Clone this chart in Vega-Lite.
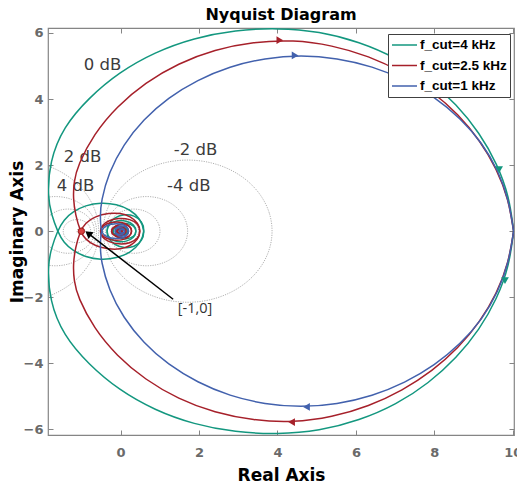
{
"$schema":"https://vega.github.io/schema/vega-lite/v6.json",
"width":466,"height":407,
"autosize":{"type":"none"},
"padding":{"left":48,"top":28,"right":3,"bottom":48},
"background":"white",
"title":{"text":"Nyquist Diagram","font":"DejaVu Sans","fontSize":16,"fontWeight":"bold","color":"#000000","offset":4,"anchor":"middle"},
"config":{"view":{"stroke":"#858585","strokeWidth":1.2},
 "axis":{"grid":false,"domain":false,"tickColor":"#858585","tickSize":-5,"tickWidth":1,"labelFont":"DejaVu Sans","labelFontSize":13,"labelFontWeight":"bold","labelColor":"#6a6a6a","labelFlush":false,"labelOverlap":false,"titleFont":"DejaVu Sans","titleFontSize":17,"titleFontWeight":"bold","titleColor":"#000000"}},
"resolve":{"axis":{"x":"independent","y":"independent"}},
"datasets":{
"grid":[
{"m":"p2","i":0,"x":-0.558,"y":0},{"m":"p2","i":1,"x":-0.631,"y":0.557},{"m":"p2","i":2,"x":-0.846,"y":1.076},{"m":"p2","i":3,"x":-1.188,"y":1.522},{"m":"p2","i":4,"x":-1.634,"y":1.864},{"m":"p2","i":5,"x":-2.153,"y":2.079},{"m":"p2","i":6,"x":-2.71,"y":2.152},{"m":"p2","i":7,"x":-3.267,"y":2.079},{"m":"p2","i":8,"x":-3.786,"y":1.864},{"m":"p2","i":9,"x":-4.232,"y":1.522},{"m":"p2","i":10,"x":-4.574,"y":1.076},{"m":"p2","i":11,"x":-4.789,"y":0.557},{"m":"p2","i":12,"x":-4.862,"y":0},{"m":"p2","i":13,"x":-4.789,"y":-0.557},{"m":"p2","i":14,"x":-4.574,"y":-1.076},{"m":"p2","i":15,"x":-4.232,"y":-1.522},{"m":"p2","i":16,"x":-3.786,"y":-1.864},{"m":"p2","i":17,"x":-3.267,"y":-2.079},{"m":"p2","i":18,"x":-2.71,"y":-2.152},{"m":"p2","i":19,"x":-2.153,"y":-2.079},{"m":"p2","i":20,"x":-1.634,"y":-1.864},{"m":"p2","i":21,"x":-1.188,"y":-1.522},{"m":"p2","i":22,"x":-0.846,"y":-1.076},{"m":"p2","i":23,"x":-0.631,"y":-0.557},
{"m":"m2","i":0,"x":3.862,"y":0},{"m":"m2","i":1,"x":3.789,"y":0.557},{"m":"m2","i":2,"x":3.574,"y":1.076},{"m":"m2","i":3,"x":3.232,"y":1.522},{"m":"m2","i":4,"x":2.786,"y":1.864},{"m":"m2","i":5,"x":2.267,"y":2.079},{"m":"m2","i":6,"x":1.71,"y":2.152},{"m":"m2","i":7,"x":1.153,"y":2.079},{"m":"m2","i":8,"x":0.634,"y":1.864},{"m":"m2","i":9,"x":0.188,"y":1.522},{"m":"m2","i":10,"x":-0.154,"y":1.076},{"m":"m2","i":11,"x":-0.369,"y":0.557},{"m":"m2","i":12,"x":-0.442,"y":0},{"m":"m2","i":13,"x":-0.369,"y":-0.557},{"m":"m2","i":14,"x":-0.154,"y":-1.076},{"m":"m2","i":15,"x":0.188,"y":-1.522},{"m":"m2","i":16,"x":0.634,"y":-1.864},{"m":"m2","i":17,"x":1.153,"y":-2.079},{"m":"m2","i":18,"x":1.71,"y":-2.152},{"m":"m2","i":19,"x":2.267,"y":-2.079},{"m":"m2","i":20,"x":2.786,"y":-1.864},{"m":"m2","i":21,"x":3.232,"y":-1.522},{"m":"m2","i":22,"x":3.574,"y":-1.076},{"m":"m2","i":23,"x":3.789,"y":-0.557},
{"m":"p4","i":0,"x":-0.613,"y":0},{"m":"p4","i":1,"x":-0.649,"y":0.271},{"m":"p4","i":2,"x":-0.753,"y":0.524},{"m":"p4","i":3,"x":-0.92,"y":0.741},{"m":"p4","i":4,"x":-1.137,"y":0.908},{"m":"p4","i":5,"x":-1.39,"y":1.012},{"m":"p4","i":6,"x":-1.661,"y":1.048},{"m":"p4","i":7,"x":-1.932,"y":1.012},{"m":"p4","i":8,"x":-2.185,"y":0.908},{"m":"p4","i":9,"x":-2.402,"y":0.741},{"m":"p4","i":10,"x":-2.569,"y":0.524},{"m":"p4","i":11,"x":-2.673,"y":0.271},{"m":"p4","i":12,"x":-2.709,"y":0},{"m":"p4","i":13,"x":-2.673,"y":-0.271},{"m":"p4","i":14,"x":-2.569,"y":-0.524},{"m":"p4","i":15,"x":-2.402,"y":-0.741},{"m":"p4","i":16,"x":-2.185,"y":-0.908},{"m":"p4","i":17,"x":-1.932,"y":-1.012},{"m":"p4","i":18,"x":-1.661,"y":-1.048},{"m":"p4","i":19,"x":-1.39,"y":-1.012},{"m":"p4","i":20,"x":-1.137,"y":-0.908},{"m":"p4","i":21,"x":-0.92,"y":-0.741},{"m":"p4","i":22,"x":-0.753,"y":-0.524},{"m":"p4","i":23,"x":-0.649,"y":-0.271},
{"m":"m4","i":0,"x":1.709,"y":0},{"m":"m4","i":1,"x":1.673,"y":0.271},{"m":"m4","i":2,"x":1.569,"y":0.524},{"m":"m4","i":3,"x":1.402,"y":0.741},{"m":"m4","i":4,"x":1.185,"y":0.908},{"m":"m4","i":5,"x":0.932,"y":1.012},{"m":"m4","i":6,"x":0.661,"y":1.048},{"m":"m4","i":7,"x":0.39,"y":1.012},{"m":"m4","i":8,"x":0.137,"y":0.908},{"m":"m4","i":9,"x":-0.08,"y":0.741},{"m":"m4","i":10,"x":-0.247,"y":0.524},{"m":"m4","i":11,"x":-0.351,"y":0.271},{"m":"m4","i":12,"x":-0.387,"y":0},{"m":"m4","i":13,"x":-0.351,"y":-0.271},{"m":"m4","i":14,"x":-0.247,"y":-0.524},{"m":"m4","i":15,"x":-0.08,"y":-0.741},{"m":"m4","i":16,"x":0.137,"y":-0.908},{"m":"m4","i":17,"x":0.39,"y":-1.012},{"m":"m4","i":18,"x":0.661,"y":-1.048},{"m":"m4","i":19,"x":0.932,"y":-1.012},{"m":"m4","i":20,"x":1.185,"y":-0.908},{"m":"m4","i":21,"x":1.402,"y":-0.741},{"m":"m4","i":22,"x":1.569,"y":-0.524},{"m":"m4","i":23,"x":1.673,"y":-0.271},
{"m":"p6","i":0,"x":-0.667,"y":0},{"m":"p6","i":1,"x":-0.69,"y":0.173},{"m":"p6","i":2,"x":-0.757,"y":0.335},{"m":"p6","i":3,"x":-0.863,"y":0.473},{"m":"p6","i":4,"x":-1.001,"y":0.579},{"m":"p6","i":5,"x":-1.163,"y":0.646},{"m":"p6","i":6,"x":-1.336,"y":0.669},{"m":"p6","i":7,"x":-1.509,"y":0.646},{"m":"p6","i":8,"x":-1.671,"y":0.579},{"m":"p6","i":9,"x":-1.809,"y":0.473},{"m":"p6","i":10,"x":-1.915,"y":0.335},{"m":"p6","i":11,"x":-1.982,"y":0.173},{"m":"p6","i":12,"x":-2.005,"y":0},{"m":"p6","i":13,"x":-1.982,"y":-0.173},{"m":"p6","i":14,"x":-1.915,"y":-0.335},{"m":"p6","i":15,"x":-1.809,"y":-0.473},{"m":"p6","i":16,"x":-1.671,"y":-0.579},{"m":"p6","i":17,"x":-1.509,"y":-0.646},{"m":"p6","i":18,"x":-1.336,"y":-0.669},{"m":"p6","i":19,"x":-1.163,"y":-0.646},{"m":"p6","i":20,"x":-1.001,"y":-0.579},{"m":"p6","i":21,"x":-0.863,"y":-0.473},{"m":"p6","i":22,"x":-0.757,"y":-0.335},{"m":"p6","i":23,"x":-0.69,"y":-0.173},
{"m":"m6","i":0,"x":1.005,"y":0},{"m":"m6","i":1,"x":0.982,"y":0.173},{"m":"m6","i":2,"x":0.915,"y":0.335},{"m":"m6","i":3,"x":0.809,"y":0.473},{"m":"m6","i":4,"x":0.671,"y":0.579},{"m":"m6","i":5,"x":0.509,"y":0.646},{"m":"m6","i":6,"x":0.336,"y":0.669},{"m":"m6","i":7,"x":0.163,"y":0.646},{"m":"m6","i":8,"x":0.001,"y":0.579},{"m":"m6","i":9,"x":-0.137,"y":0.473},{"m":"m6","i":10,"x":-0.243,"y":0.335},{"m":"m6","i":11,"x":-0.31,"y":0.173},{"m":"m6","i":12,"x":-0.333,"y":0},{"m":"m6","i":13,"x":-0.31,"y":-0.173},{"m":"m6","i":14,"x":-0.243,"y":-0.335},{"m":"m6","i":15,"x":-0.137,"y":-0.473},{"m":"m6","i":16,"x":0.001,"y":-0.579},{"m":"m6","i":17,"x":0.163,"y":-0.646},{"m":"m6","i":18,"x":0.336,"y":-0.669},{"m":"m6","i":19,"x":0.509,"y":-0.646},{"m":"m6","i":20,"x":0.671,"y":-0.579},{"m":"m6","i":21,"x":0.809,"y":-0.473},{"m":"m6","i":22,"x":0.915,"y":-0.335},{"m":"m6","i":23,"x":0.982,"y":-0.173},
{"m":"p10","i":0,"x":-0.76,"y":0},{"m":"p10","i":1,"x":-0.807,"y":0.176},{"m":"p10","i":2,"x":-0.935,"y":0.304},{"m":"p10","i":3,"x":-1.111,"y":0.351},{"m":"p10","i":4,"x":-1.287,"y":0.304},{"m":"p10","i":5,"x":-1.415,"y":0.176},{"m":"p10","i":6,"x":-1.462,"y":0},{"m":"p10","i":7,"x":-1.415,"y":-0.176},{"m":"p10","i":8,"x":-1.287,"y":-0.304},{"m":"p10","i":9,"x":-1.111,"y":-0.351},{"m":"p10","i":10,"x":-0.935,"y":-0.304},{"m":"p10","i":11,"x":-0.807,"y":-0.176},
{"m":"m10","i":0,"x":0.462,"y":0},{"m":"m10","i":1,"x":0.415,"y":0.176},{"m":"m10","i":2,"x":0.287,"y":0.304},{"m":"m10","i":3,"x":0.111,"y":0.351},{"m":"m10","i":4,"x":-0.065,"y":0.304},{"m":"m10","i":5,"x":-0.193,"y":0.176},{"m":"m10","i":6,"x":-0.24,"y":0},{"m":"m10","i":7,"x":-0.193,"y":-0.176},{"m":"m10","i":8,"x":-0.065,"y":-0.304},{"m":"m10","i":9,"x":0.111,"y":-0.351},{"m":"m10","i":10,"x":0.287,"y":-0.304},{"m":"m10","i":11,"x":0.415,"y":-0.176},
{"m":"p20","i":0,"x":-0.909,"y":0},{"m":"p20","i":1,"x":-0.923,"y":0.051},{"m":"p20","i":2,"x":-0.959,"y":0.087},{"m":"p20","i":3,"x":-1.01,"y":0.101},{"m":"p20","i":4,"x":-1.061,"y":0.087},{"m":"p20","i":5,"x":-1.097,"y":0.051},{"m":"p20","i":6,"x":-1.111,"y":0},{"m":"p20","i":7,"x":-1.097,"y":-0.051},{"m":"p20","i":8,"x":-1.061,"y":-0.087},{"m":"p20","i":9,"x":-1.01,"y":-0.101},{"m":"p20","i":10,"x":-0.959,"y":-0.087},{"m":"p20","i":11,"x":-0.923,"y":-0.051},
{"m":"m20","i":0,"x":0.111,"y":0},{"m":"m20","i":1,"x":0.097,"y":0.051},{"m":"m20","i":2,"x":0.061,"y":0.087},{"m":"m20","i":3,"x":0.01,"y":0.101},{"m":"m20","i":4,"x":-0.041,"y":0.087},{"m":"m20","i":5,"x":-0.077,"y":0.051},{"m":"m20","i":6,"x":-0.091,"y":0},{"m":"m20","i":7,"x":-0.077,"y":-0.051},{"m":"m20","i":8,"x":-0.041,"y":-0.087},{"m":"m20","i":9,"x":0.01,"y":-0.101},{"m":"m20","i":10,"x":0.061,"y":-0.087},{"m":"m20","i":11,"x":0.097,"y":-0.051}
],
"curves":[
{"c":"f_cut=4 kHz","s":"t1","i":1,"x":10.02,"y":0},{"c":"f_cut=4 kHz","s":"t1","i":2,"x":9.91,"y":-1.04},{"c":"f_cut=4 kHz","s":"t1","i":3,"x":9.6,"y":-2.04},{"c":"f_cut=4 kHz","s":"t1","i":4,"x":9.15,"y":-2.98},{"c":"f_cut=4 kHz","s":"t1","i":5,"x":8.57,"y":-3.83},{"c":"f_cut=4 kHz","s":"t1","i":6,"x":7.86,"y":-4.6},{"c":"f_cut=4 kHz","s":"t1","i":7,"x":7.03,"y":-5.25},{"c":"f_cut=4 kHz","s":"t1","i":8,"x":6.09,"y":-5.73},{"c":"f_cut=4 kHz","s":"t1","i":9,"x":5.07,"y":-6.05},{"c":"f_cut=4 kHz","s":"t1","i":10,"x":4.0,"y":-6.15},{"c":"f_cut=4 kHz","s":"t1","i":11,"x":2.93,"y":-6.09},{"c":"f_cut=4 kHz","s":"t1","i":12,"x":1.87,"y":-5.85},{"c":"f_cut=4 kHz","s":"t1","i":13,"x":0.87,"y":-5.42},{"c":"f_cut=4 kHz","s":"t1","i":14,"x":-0.04,"y":-4.81},{"c":"f_cut=4 kHz","s":"t1","i":15,"x":-0.81,"y":-4.04},{"c":"f_cut=4 kHz","s":"t1","i":16,"x":-1.46,"y":-3.15},{"c":"f_cut=4 kHz","s":"t1","i":17,"x":-1.81,"y":-2.11},{"c":"f_cut=4 kHz","s":"t1","i":18,"x":-1.86,"y":-1.03},{"c":"f_cut=4 kHz","s":"t1","i":19,"x":-1.76,"y":-0.5},{"c":"f_cut=4 kHz","s":"t1","i":20,"x":-1.61,"y":0},
{"c":"f_cut=4 kHz","s":"t1","i":21,"x":-1.45,"y":0.35},{"c":"f_cut=4 kHz","s":"t1","i":22,"x":-1.2,"y":0.6},{"c":"f_cut=4 kHz","s":"t1","i":23,"x":-0.9,"y":0.78},{"c":"f_cut=4 kHz","s":"t1","i":24,"x":-0.5,"y":0.87},{"c":"f_cut=4 kHz","s":"t1","i":25,"x":-0.1,"y":0.82},{"c":"f_cut=4 kHz","s":"t1","i":26,"x":0.25,"y":0.65},{"c":"f_cut=4 kHz","s":"t1","i":27,"x":0.5,"y":0.38},{"c":"f_cut=4 kHz","s":"t1","i":28,"x":0.62,"y":0},{"c":"f_cut=4 kHz","s":"t1","i":29,"x":0.55,"y":-0.3},{"c":"f_cut=4 kHz","s":"t1","i":30,"x":0.35,"y":-0.48},{"c":"f_cut=4 kHz","s":"t1","i":31,"x":0.1,"y":-0.52},{"c":"f_cut=4 kHz","s":"t1","i":32,"x":-0.15,"y":-0.42},{"c":"f_cut=4 kHz","s":"t1","i":33,"x":-0.32,"y":-0.22},{"c":"f_cut=4 kHz","s":"t1","i":34,"x":-0.36,"y":0},{"c":"f_cut=4 kHz","s":"t1","i":35,"x":-0.3,"y":0.22},{"c":"f_cut=4 kHz","s":"t1","i":36,"x":-0.1,"y":0.33},{"c":"f_cut=4 kHz","s":"t1","i":37,"x":0.15,"y":0.32},{"c":"f_cut=4 kHz","s":"t1","i":38,"x":0.35,"y":0.2},{"c":"f_cut=4 kHz","s":"t1","i":39,"x":0.41,"y":0},{"c":"f_cut=4 kHz","s":"t1","i":40,"x":0.35,"y":-0.17},{"c":"f_cut=4 kHz","s":"t1","i":41,"x":0.15,"y":-0.25},{"c":"f_cut=4 kHz","s":"t1","i":42,"x":-0.05,"y":-0.22},{"c":"f_cut=4 kHz","s":"t1","i":43,"x":-0.18,"y":-0.1},{"c":"f_cut=4 kHz","s":"t1","i":44,"x":-0.2,"y":0},{"c":"f_cut=4 kHz","s":"t1","i":45,"x":-0.15,"y":0.12},{"c":"f_cut=4 kHz","s":"t1","i":46,"x":0,"y":0.16},{"c":"f_cut=4 kHz","s":"t1","i":47,"x":0.15,"y":0.1},{"c":"f_cut=4 kHz","s":"t1","i":48,"x":0.2,"y":0},{"c":"f_cut=4 kHz","s":"t1","i":49,"x":0.14,"y":-0.09},{"c":"f_cut=4 kHz","s":"t1","i":50,"x":0,"y":-0.11},{"c":"f_cut=4 kHz","s":"t1","i":51,"x":-0.08,"y":-0.05},{"c":"f_cut=4 kHz","s":"t1","i":52,"x":-0.09,"y":0},{"c":"f_cut=4 kHz","s":"t1","i":53,"x":-0.05,"y":0.05},{"c":"f_cut=4 kHz","s":"t1","i":54,"x":0.03,"y":0.05},{"c":"f_cut=4 kHz","s":"t1","i":55,"x":0.06,"y":0},{"c":"f_cut=4 kHz","s":"t1","i":56,"x":0,"y":0},
{"c":"f_cut=4 kHz","s":"t2","i":1,"x":10.02,"y":0},{"c":"f_cut=4 kHz","s":"t2","i":2,"x":9.91,"y":1.04},{"c":"f_cut=4 kHz","s":"t2","i":3,"x":9.6,"y":2.04},{"c":"f_cut=4 kHz","s":"t2","i":4,"x":9.15,"y":2.98},{"c":"f_cut=4 kHz","s":"t2","i":5,"x":8.57,"y":3.83},{"c":"f_cut=4 kHz","s":"t2","i":6,"x":7.86,"y":4.6},{"c":"f_cut=4 kHz","s":"t2","i":7,"x":7.03,"y":5.25},{"c":"f_cut=4 kHz","s":"t2","i":8,"x":6.09,"y":5.73},{"c":"f_cut=4 kHz","s":"t2","i":9,"x":5.07,"y":6.05},{"c":"f_cut=4 kHz","s":"t2","i":10,"x":4.0,"y":6.15},{"c":"f_cut=4 kHz","s":"t2","i":11,"x":2.93,"y":6.09},{"c":"f_cut=4 kHz","s":"t2","i":12,"x":1.87,"y":5.85},{"c":"f_cut=4 kHz","s":"t2","i":13,"x":0.87,"y":5.42},{"c":"f_cut=4 kHz","s":"t2","i":14,"x":-0.04,"y":4.81},{"c":"f_cut=4 kHz","s":"t2","i":15,"x":-0.81,"y":4.04},{"c":"f_cut=4 kHz","s":"t2","i":16,"x":-1.46,"y":3.15},{"c":"f_cut=4 kHz","s":"t2","i":17,"x":-1.81,"y":2.11},{"c":"f_cut=4 kHz","s":"t2","i":18,"x":-1.86,"y":1.03},{"c":"f_cut=4 kHz","s":"t2","i":19,"x":-1.76,"y":0.5},{"c":"f_cut=4 kHz","s":"t2","i":20,"x":-1.61,"y":0},
{"c":"f_cut=4 kHz","s":"t2","i":21,"x":-1.45,"y":-0.35},{"c":"f_cut=4 kHz","s":"t2","i":22,"x":-1.2,"y":-0.6},{"c":"f_cut=4 kHz","s":"t2","i":23,"x":-0.9,"y":-0.78},{"c":"f_cut=4 kHz","s":"t2","i":24,"x":-0.5,"y":-0.87},{"c":"f_cut=4 kHz","s":"t2","i":25,"x":-0.1,"y":-0.82},{"c":"f_cut=4 kHz","s":"t2","i":26,"x":0.25,"y":-0.65},{"c":"f_cut=4 kHz","s":"t2","i":27,"x":0.5,"y":-0.38},{"c":"f_cut=4 kHz","s":"t2","i":28,"x":0.62,"y":0},{"c":"f_cut=4 kHz","s":"t2","i":29,"x":0.55,"y":0.3},{"c":"f_cut=4 kHz","s":"t2","i":30,"x":0.35,"y":0.48},{"c":"f_cut=4 kHz","s":"t2","i":31,"x":0.1,"y":0.52},{"c":"f_cut=4 kHz","s":"t2","i":32,"x":-0.15,"y":0.42},{"c":"f_cut=4 kHz","s":"t2","i":33,"x":-0.32,"y":0.22},{"c":"f_cut=4 kHz","s":"t2","i":34,"x":-0.36,"y":0},{"c":"f_cut=4 kHz","s":"t2","i":35,"x":-0.3,"y":-0.22},{"c":"f_cut=4 kHz","s":"t2","i":36,"x":-0.1,"y":-0.33},{"c":"f_cut=4 kHz","s":"t2","i":37,"x":0.15,"y":-0.32},{"c":"f_cut=4 kHz","s":"t2","i":38,"x":0.35,"y":-0.2},{"c":"f_cut=4 kHz","s":"t2","i":39,"x":0.41,"y":0},{"c":"f_cut=4 kHz","s":"t2","i":40,"x":0.35,"y":0.17},{"c":"f_cut=4 kHz","s":"t2","i":41,"x":0.15,"y":0.25},{"c":"f_cut=4 kHz","s":"t2","i":42,"x":-0.05,"y":0.22},{"c":"f_cut=4 kHz","s":"t2","i":43,"x":-0.18,"y":0.1},{"c":"f_cut=4 kHz","s":"t2","i":44,"x":-0.2,"y":0},{"c":"f_cut=4 kHz","s":"t2","i":45,"x":-0.15,"y":-0.12},{"c":"f_cut=4 kHz","s":"t2","i":46,"x":0,"y":-0.16},{"c":"f_cut=4 kHz","s":"t2","i":47,"x":0.15,"y":-0.1},{"c":"f_cut=4 kHz","s":"t2","i":48,"x":0.2,"y":0},{"c":"f_cut=4 kHz","s":"t2","i":49,"x":0.14,"y":0.09},{"c":"f_cut=4 kHz","s":"t2","i":50,"x":0,"y":0.11},{"c":"f_cut=4 kHz","s":"t2","i":51,"x":-0.08,"y":0.05},{"c":"f_cut=4 kHz","s":"t2","i":52,"x":-0.09,"y":0},{"c":"f_cut=4 kHz","s":"t2","i":53,"x":-0.05,"y":-0.05},{"c":"f_cut=4 kHz","s":"t2","i":54,"x":0.03,"y":-0.05},{"c":"f_cut=4 kHz","s":"t2","i":55,"x":0.06,"y":0},{"c":"f_cut=4 kHz","s":"t2","i":56,"x":0,"y":0},
{"c":"f_cut=2.5 kHz","s":"r1","i":1,"x":10.02,"y":0},{"c":"f_cut=2.5 kHz","s":"r1","i":2,"x":9.89,"y":-0.97},{"c":"f_cut=2.5 kHz","s":"r1","i":3,"x":9.59,"y":-1.89},{"c":"f_cut=2.5 kHz","s":"r1","i":4,"x":9.16,"y":-2.75},{"c":"f_cut=2.5 kHz","s":"r1","i":5,"x":8.61,"y":-3.54},{"c":"f_cut=2.5 kHz","s":"r1","i":6,"x":7.95,"y":-4.23},{"c":"f_cut=2.5 kHz","s":"r1","i":7,"x":7.19,"y":-4.82},{"c":"f_cut=2.5 kHz","s":"r1","i":8,"x":6.33,"y":-5.3},{"c":"f_cut=2.5 kHz","s":"r1","i":9,"x":5.39,"y":-5.63},{"c":"f_cut=2.5 kHz","s":"r1","i":10,"x":4.4,"y":-5.79},{"c":"f_cut=2.5 kHz","s":"r1","i":11,"x":3.39,"y":-5.73},{"c":"f_cut=2.5 kHz","s":"r1","i":12,"x":2.4,"y":-5.5},{"c":"f_cut=2.5 kHz","s":"r1","i":13,"x":1.47,"y":-5.08},{"c":"f_cut=2.5 kHz","s":"r1","i":14,"x":0.63,"y":-4.5},{"c":"f_cut=2.5 kHz","s":"r1","i":15,"x":-0.1,"y":-3.77},{"c":"f_cut=2.5 kHz","s":"r1","i":16,"x":-0.68,"y":-2.94},{"c":"f_cut=2.5 kHz","s":"r1","i":17,"x":-1.09,"y":-2.0},{"c":"f_cut=2.5 kHz","s":"r1","i":18,"x":-1.19,"y":-1.5},{"c":"f_cut=2.5 kHz","s":"r1","i":19,"x":-1.21,"y":-0.99},{"c":"f_cut=2.5 kHz","s":"r1","i":20,"x":-1.15,"y":-0.49},{"c":"f_cut=2.5 kHz","s":"r1","i":21,"x":-1.03,"y":0},
{"c":"f_cut=2.5 kHz","s":"r1","i":22,"x":-0.9,"y":0.25},{"c":"f_cut=2.5 kHz","s":"r1","i":23,"x":-0.65,"y":0.45},{"c":"f_cut=2.5 kHz","s":"r1","i":24,"x":-0.3,"y":0.55},{"c":"f_cut=2.5 kHz","s":"r1","i":25,"x":0,"y":0.55},{"c":"f_cut=2.5 kHz","s":"r1","i":26,"x":0.25,"y":0.45},{"c":"f_cut=2.5 kHz","s":"r1","i":27,"x":0.45,"y":0.25},{"c":"f_cut=2.5 kHz","s":"r1","i":28,"x":0.51,"y":0},{"c":"f_cut=2.5 kHz","s":"r1","i":29,"x":0.45,"y":-0.22},{"c":"f_cut=2.5 kHz","s":"r1","i":30,"x":0.25,"y":-0.37},{"c":"f_cut=2.5 kHz","s":"r1","i":31,"x":-0.05,"y":-0.4},{"c":"f_cut=2.5 kHz","s":"r1","i":32,"x":-0.3,"y":-0.33},{"c":"f_cut=2.5 kHz","s":"r1","i":33,"x":-0.48,"y":-0.18},{"c":"f_cut=2.5 kHz","s":"r1","i":34,"x":-0.53,"y":0},{"c":"f_cut=2.5 kHz","s":"r1","i":35,"x":-0.45,"y":0.18},{"c":"f_cut=2.5 kHz","s":"r1","i":36,"x":-0.25,"y":0.28},{"c":"f_cut=2.5 kHz","s":"r1","i":37,"x":0.05,"y":0.28},{"c":"f_cut=2.5 kHz","s":"r1","i":38,"x":0.22,"y":0.18},{"c":"f_cut=2.5 kHz","s":"r1","i":39,"x":0.3,"y":0},{"c":"f_cut=2.5 kHz","s":"r1","i":40,"x":0.25,"y":-0.16},{"c":"f_cut=2.5 kHz","s":"r1","i":41,"x":0.05,"y":-0.22},{"c":"f_cut=2.5 kHz","s":"r1","i":42,"x":-0.15,"y":-0.17},{"c":"f_cut=2.5 kHz","s":"r1","i":43,"x":-0.25,"y":0},{"c":"f_cut=2.5 kHz","s":"r1","i":44,"x":-0.2,"y":0.12},{"c":"f_cut=2.5 kHz","s":"r1","i":45,"x":-0.05,"y":0.16},{"c":"f_cut=2.5 kHz","s":"r1","i":46,"x":0.1,"y":0.11},{"c":"f_cut=2.5 kHz","s":"r1","i":47,"x":0.16,"y":0},{"c":"f_cut=2.5 kHz","s":"r1","i":48,"x":0.1,"y":-0.08},{"c":"f_cut=2.5 kHz","s":"r1","i":49,"x":-0.02,"y":-0.1},{"c":"f_cut=2.5 kHz","s":"r1","i":50,"x":-0.1,"y":-0.05},{"c":"f_cut=2.5 kHz","s":"r1","i":51,"x":-0.11,"y":0},{"c":"f_cut=2.5 kHz","s":"r1","i":52,"x":-0.06,"y":0.05},{"c":"f_cut=2.5 kHz","s":"r1","i":53,"x":0.03,"y":0.05},{"c":"f_cut=2.5 kHz","s":"r1","i":54,"x":0.06,"y":0},{"c":"f_cut=2.5 kHz","s":"r1","i":55,"x":0,"y":0},
{"c":"f_cut=2.5 kHz","s":"r2","i":1,"x":10.02,"y":0},{"c":"f_cut=2.5 kHz","s":"r2","i":2,"x":9.89,"y":0.97},{"c":"f_cut=2.5 kHz","s":"r2","i":3,"x":9.59,"y":1.89},{"c":"f_cut=2.5 kHz","s":"r2","i":4,"x":9.16,"y":2.75},{"c":"f_cut=2.5 kHz","s":"r2","i":5,"x":8.61,"y":3.54},{"c":"f_cut=2.5 kHz","s":"r2","i":6,"x":7.95,"y":4.23},{"c":"f_cut=2.5 kHz","s":"r2","i":7,"x":7.19,"y":4.82},{"c":"f_cut=2.5 kHz","s":"r2","i":8,"x":6.33,"y":5.3},{"c":"f_cut=2.5 kHz","s":"r2","i":9,"x":5.39,"y":5.63},{"c":"f_cut=2.5 kHz","s":"r2","i":10,"x":4.4,"y":5.79},{"c":"f_cut=2.5 kHz","s":"r2","i":11,"x":3.39,"y":5.73},{"c":"f_cut=2.5 kHz","s":"r2","i":12,"x":2.4,"y":5.5},{"c":"f_cut=2.5 kHz","s":"r2","i":13,"x":1.47,"y":5.08},{"c":"f_cut=2.5 kHz","s":"r2","i":14,"x":0.63,"y":4.5},{"c":"f_cut=2.5 kHz","s":"r2","i":15,"x":-0.1,"y":3.77},{"c":"f_cut=2.5 kHz","s":"r2","i":16,"x":-0.68,"y":2.94},{"c":"f_cut=2.5 kHz","s":"r2","i":17,"x":-1.09,"y":2.0},{"c":"f_cut=2.5 kHz","s":"r2","i":18,"x":-1.19,"y":1.5},{"c":"f_cut=2.5 kHz","s":"r2","i":19,"x":-1.21,"y":0.99},{"c":"f_cut=2.5 kHz","s":"r2","i":20,"x":-1.15,"y":0.49},{"c":"f_cut=2.5 kHz","s":"r2","i":21,"x":-1.03,"y":0},
{"c":"f_cut=2.5 kHz","s":"r2","i":22,"x":-0.9,"y":-0.25},{"c":"f_cut=2.5 kHz","s":"r2","i":23,"x":-0.65,"y":-0.45},{"c":"f_cut=2.5 kHz","s":"r2","i":24,"x":-0.3,"y":-0.55},{"c":"f_cut=2.5 kHz","s":"r2","i":25,"x":0,"y":-0.55},{"c":"f_cut=2.5 kHz","s":"r2","i":26,"x":0.25,"y":-0.45},{"c":"f_cut=2.5 kHz","s":"r2","i":27,"x":0.45,"y":-0.25},{"c":"f_cut=2.5 kHz","s":"r2","i":28,"x":0.51,"y":0},{"c":"f_cut=2.5 kHz","s":"r2","i":29,"x":0.45,"y":0.22},{"c":"f_cut=2.5 kHz","s":"r2","i":30,"x":0.25,"y":0.37},{"c":"f_cut=2.5 kHz","s":"r2","i":31,"x":-0.05,"y":0.4},{"c":"f_cut=2.5 kHz","s":"r2","i":32,"x":-0.3,"y":0.33},{"c":"f_cut=2.5 kHz","s":"r2","i":33,"x":-0.48,"y":0.18},{"c":"f_cut=2.5 kHz","s":"r2","i":34,"x":-0.53,"y":0},{"c":"f_cut=2.5 kHz","s":"r2","i":35,"x":-0.45,"y":-0.18},{"c":"f_cut=2.5 kHz","s":"r2","i":36,"x":-0.25,"y":-0.28},{"c":"f_cut=2.5 kHz","s":"r2","i":37,"x":0.05,"y":-0.28},{"c":"f_cut=2.5 kHz","s":"r2","i":38,"x":0.22,"y":-0.18},{"c":"f_cut=2.5 kHz","s":"r2","i":39,"x":0.3,"y":0},{"c":"f_cut=2.5 kHz","s":"r2","i":40,"x":0.25,"y":0.16},{"c":"f_cut=2.5 kHz","s":"r2","i":41,"x":0.05,"y":0.22},{"c":"f_cut=2.5 kHz","s":"r2","i":42,"x":-0.15,"y":0.17},{"c":"f_cut=2.5 kHz","s":"r2","i":43,"x":-0.25,"y":0},{"c":"f_cut=2.5 kHz","s":"r2","i":44,"x":-0.2,"y":-0.12},{"c":"f_cut=2.5 kHz","s":"r2","i":45,"x":-0.05,"y":-0.16},{"c":"f_cut=2.5 kHz","s":"r2","i":46,"x":0.1,"y":-0.11},{"c":"f_cut=2.5 kHz","s":"r2","i":47,"x":0.16,"y":0},{"c":"f_cut=2.5 kHz","s":"r2","i":48,"x":0.1,"y":0.08},{"c":"f_cut=2.5 kHz","s":"r2","i":49,"x":-0.02,"y":0.1},{"c":"f_cut=2.5 kHz","s":"r2","i":50,"x":-0.1,"y":0.05},{"c":"f_cut=2.5 kHz","s":"r2","i":51,"x":-0.11,"y":0},{"c":"f_cut=2.5 kHz","s":"r2","i":52,"x":-0.06,"y":-0.05},{"c":"f_cut=2.5 kHz","s":"r2","i":53,"x":0.03,"y":-0.05},{"c":"f_cut=2.5 kHz","s":"r2","i":54,"x":0.06,"y":0},{"c":"f_cut=2.5 kHz","s":"r2","i":55,"x":0,"y":0},
{"c":"f_cut=1 kHz","s":"b1","i":1,"x":10.02,"y":0},{"c":"f_cut=1 kHz","s":"b1","i":2,"x":9.9,"y":-0.93},{"c":"f_cut=1 kHz","s":"b1","i":3,"x":9.63,"y":-1.83},{"c":"f_cut=1 kHz","s":"b1","i":4,"x":9.22,"y":-2.67},{"c":"f_cut=1 kHz","s":"b1","i":5,"x":8.67,"y":-3.41},{"c":"f_cut=1 kHz","s":"b1","i":6,"x":8.01,"y":-4.06},{"c":"f_cut=1 kHz","s":"b1","i":7,"x":7.25,"y":-4.59},{"c":"f_cut=1 kHz","s":"b1","i":8,"x":6.42,"y":-4.99},{"c":"f_cut=1 kHz","s":"b1","i":9,"x":5.52,"y":-5.24},{"c":"f_cut=1 kHz","s":"b1","i":10,"x":4.6,"y":-5.33},{"c":"f_cut=1 kHz","s":"b1","i":11,"x":3.68,"y":-5.24},{"c":"f_cut=1 kHz","s":"b1","i":12,"x":2.78,"y":-4.99},{"c":"f_cut=1 kHz","s":"b1","i":13,"x":1.96,"y":-4.58},{"c":"f_cut=1 kHz","s":"b1","i":14,"x":1.21,"y":-4.04},{"c":"f_cut=1 kHz","s":"b1","i":15,"x":0.58,"y":-3.38},{"c":"f_cut=1 kHz","s":"b1","i":16,"x":0.07,"y":-2.62},{"c":"f_cut=1 kHz","s":"b1","i":17,"x":-0.3,"y":-1.78},{"c":"f_cut=1 kHz","s":"b1","i":18,"x":-0.5,"y":-0.9},{"c":"f_cut=1 kHz","s":"b1","i":19,"x":-0.52,"y":-0.45},{"c":"f_cut=1 kHz","s":"b1","i":20,"x":-0.5,"y":0},
{"c":"f_cut=1 kHz","s":"b1","i":21,"x":-0.42,"y":0.14},{"c":"f_cut=1 kHz","s":"b1","i":22,"x":-0.25,"y":0.22},{"c":"f_cut=1 kHz","s":"b1","i":23,"x":0,"y":0.23},{"c":"f_cut=1 kHz","s":"b1","i":24,"x":0.17,"y":0.15},{"c":"f_cut=1 kHz","s":"b1","i":25,"x":0.22,"y":0},{"c":"f_cut=1 kHz","s":"b1","i":26,"x":0.17,"y":-0.13},{"c":"f_cut=1 kHz","s":"b1","i":27,"x":0,"y":-0.17},{"c":"f_cut=1 kHz","s":"b1","i":28,"x":-0.12,"y":-0.11},{"c":"f_cut=1 kHz","s":"b1","i":29,"x":-0.15,"y":0},{"c":"f_cut=1 kHz","s":"b1","i":30,"x":-0.1,"y":0.09},{"c":"f_cut=1 kHz","s":"b1","i":31,"x":0,"y":0.11},{"c":"f_cut=1 kHz","s":"b1","i":32,"x":0.09,"y":0.07},{"c":"f_cut=1 kHz","s":"b1","i":33,"x":0.11,"y":0},{"c":"f_cut=1 kHz","s":"b1","i":34,"x":0.07,"y":-0.05},{"c":"f_cut=1 kHz","s":"b1","i":35,"x":0,"y":-0.06},{"c":"f_cut=1 kHz","s":"b1","i":36,"x":-0.05,"y":0},{"c":"f_cut=1 kHz","s":"b1","i":37,"x":0,"y":0},
{"c":"f_cut=1 kHz","s":"b2","i":1,"x":10.02,"y":0},{"c":"f_cut=1 kHz","s":"b2","i":2,"x":9.9,"y":0.93},{"c":"f_cut=1 kHz","s":"b2","i":3,"x":9.63,"y":1.83},{"c":"f_cut=1 kHz","s":"b2","i":4,"x":9.22,"y":2.67},{"c":"f_cut=1 kHz","s":"b2","i":5,"x":8.67,"y":3.41},{"c":"f_cut=1 kHz","s":"b2","i":6,"x":8.01,"y":4.06},{"c":"f_cut=1 kHz","s":"b2","i":7,"x":7.25,"y":4.59},{"c":"f_cut=1 kHz","s":"b2","i":8,"x":6.42,"y":4.99},{"c":"f_cut=1 kHz","s":"b2","i":9,"x":5.52,"y":5.24},{"c":"f_cut=1 kHz","s":"b2","i":10,"x":4.6,"y":5.33},{"c":"f_cut=1 kHz","s":"b2","i":11,"x":3.68,"y":5.24},{"c":"f_cut=1 kHz","s":"b2","i":12,"x":2.78,"y":4.99},{"c":"f_cut=1 kHz","s":"b2","i":13,"x":1.96,"y":4.58},{"c":"f_cut=1 kHz","s":"b2","i":14,"x":1.21,"y":4.04},{"c":"f_cut=1 kHz","s":"b2","i":15,"x":0.58,"y":3.38},{"c":"f_cut=1 kHz","s":"b2","i":16,"x":0.07,"y":2.62},{"c":"f_cut=1 kHz","s":"b2","i":17,"x":-0.3,"y":1.78},{"c":"f_cut=1 kHz","s":"b2","i":18,"x":-0.5,"y":0.9},{"c":"f_cut=1 kHz","s":"b2","i":19,"x":-0.52,"y":0.45},{"c":"f_cut=1 kHz","s":"b2","i":20,"x":-0.5,"y":0},
{"c":"f_cut=1 kHz","s":"b2","i":21,"x":-0.42,"y":-0.14},{"c":"f_cut=1 kHz","s":"b2","i":22,"x":-0.25,"y":-0.22},{"c":"f_cut=1 kHz","s":"b2","i":23,"x":0,"y":-0.23},{"c":"f_cut=1 kHz","s":"b2","i":24,"x":0.17,"y":-0.15},{"c":"f_cut=1 kHz","s":"b2","i":25,"x":0.22,"y":0},{"c":"f_cut=1 kHz","s":"b2","i":26,"x":0.17,"y":0.13},{"c":"f_cut=1 kHz","s":"b2","i":27,"x":0,"y":0.17},{"c":"f_cut=1 kHz","s":"b2","i":28,"x":-0.12,"y":0.11},{"c":"f_cut=1 kHz","s":"b2","i":29,"x":-0.15,"y":0},{"c":"f_cut=1 kHz","s":"b2","i":30,"x":-0.1,"y":-0.09},{"c":"f_cut=1 kHz","s":"b2","i":31,"x":0,"y":-0.11},{"c":"f_cut=1 kHz","s":"b2","i":32,"x":0.09,"y":-0.07},{"c":"f_cut=1 kHz","s":"b2","i":33,"x":0.11,"y":0},{"c":"f_cut=1 kHz","s":"b2","i":34,"x":0.07,"y":0.05},{"c":"f_cut=1 kHz","s":"b2","i":35,"x":0,"y":0.06},{"c":"f_cut=1 kHz","s":"b2","i":36,"x":-0.05,"y":0},{"c":"f_cut=1 kHz","s":"b2","i":37,"x":0,"y":0}
],
"arrows":[
{"c":"f_cut=2.5 kHz","d":"right","x":4.06,"y":5.78},
{"c":"f_cut=1 kHz","d":"right","x":4.45,"y":5.32},
{"c":"f_cut=2.5 kHz","d":"left","x":4.36,"y":-5.78},
{"c":"f_cut=1 kHz","d":"left","x":4.74,"y":-5.32},
{"c":"f_cut=4 kHz","d":"down","x":9.65,"y":1.86},
{"c":"f_cut=4 kHz","d":"down","x":9.8,"y":-1.5}
],
"lbl":[
{"t":"0 dB","x":-0.46,"y":5.02},
{"t":"2 dB","x":-0.97,"y":2.25},
{"t":"4 dB","x":-1.15,"y":1.36},
{"t":"-2 dB","x":1.91,"y":2.47},
{"t":"-4 dB","x":1.74,"y":1.36}
],
"ann":[{"i":0,"x":1.34,"y":-2.06},{"i":1,"x":-0.8,"y":-0.09}],
"head":[{"x":-0.8,"y":-0.09}],
"crit":[{"x":-1,"y":0}],
"note":[{"t":"[-1,0]","x":1.9,"y":-2.37}]
},
"layer":[
{"data":{"name":"grid"},
 "mark":{"type":"line","clip":true,"interpolate":"cardinal-closed","stroke":"#8f8f8f","strokeWidth":0.7,"strokeDash":[1.2,1.2]},
 "encoding":{"x":{"field":"x","type":"quantitative","scale":{"domain":[-1.85,10.03],"nice":false,"zero":false},"axis":{"orient":"bottom","values":[0,2,4,6,8,10],"title":"Real Axis","labelPadding":16,"titlePadding":8}},
  "y":{"field":"y","type":"quantitative","scale":{"domain":[-6.17,6.15],"nice":false,"zero":false},"axis":{"orient":"left","values":[-6,-4,-2,0,2,4,6],"title":"Imaginary Axis","labelPadding":10,"titlePadding":-3}},
  "detail":{"field":"m"},"order":{"field":"i","type":"quantitative"}}},
{"mark":{"type":"rule","stroke":"#7a7a7a","strokeWidth":0.8,"strokeDash":[1.5,1.5]},"encoding":{"y":{"datum":0,"type":"quantitative","axis":null}}},
{"mark":{"type":"rule","stroke":"#7a7a7a","strokeWidth":0.8,"strokeDash":[1.5,1.5]},"encoding":{"x":{"datum":-0.5,"type":"quantitative","axis":null}}},
{"data":{"name":"lbl"},
 "mark":{"type":"text","font":"DejaVu Sans","fontSize":16.5,"color":"#3c3c3c","align":"center","baseline":"middle"},
 "encoding":{"x":{"field":"x","type":"quantitative","axis":null},"y":{"field":"y","type":"quantitative","axis":null},"text":{"field":"t"}}},
{"data":{"name":"curves"},
 "mark":{"type":"line","clip":true,"strokeWidth":1.5,"interpolate":"basis"},
 "encoding":{"x":{"field":"x","type":"quantitative","axis":{"orient":"top","values":[0,2,4,6,8,10],"labels":false,"title":null}},
  "y":{"field":"y","type":"quantitative","axis":{"orient":"right","values":[-6,-4,-2,0,2,4,6],"labels":false,"title":null}},
  "color":{"field":"c","type":"nominal","scale":{"domain":["f_cut=4 kHz","f_cut=2.5 kHz","f_cut=1 kHz"],"range":["#13977f","#a6202a","#4261ad"]},
   "legend":{"orient":"none","legendX":340,"legendY":6,"title":null,"symbolType":"stroke","symbolSize":625,"symbolStrokeWidth":1.5,"labelFont":"Liberation Sans","labelFontSize":13.5,"labelFontWeight":"bold","labelColor":"#000000","strokeColor":"#404040","fillColor":"#ffffff","padding":3,"clipHeight":16,"rowPadding":4.5,"labelOffset":2}},
  "detail":{"field":"s"},"order":{"field":"i","type":"quantitative"}}},
{"data":{"name":"arrows"},
 "mark":{"type":"point","filled":true,"size":60,"opacity":1},
 "encoding":{"x":{"field":"x","type":"quantitative","axis":null},"y":{"field":"y","type":"quantitative","axis":null},
  "color":{"field":"c","type":"nominal","legend":null},
  "shape":{"field":"d","type":"nominal","scale":{"domain":["right","left","down"],"range":["triangle-right","triangle-left","triangle-down"]},"legend":null}}},
{"data":{"name":"ann"},
 "mark":{"type":"line","stroke":"#000000","strokeWidth":1.5},
 "encoding":{"x":{"field":"x","type":"quantitative","axis":null},"y":{"field":"y","type":"quantitative","axis":null},"order":{"field":"i","type":"quantitative"}}},
{"data":{"name":"crit"},
 "mark":{"type":"point","filled":true,"size":40,"fill":"#d84040","stroke":"#a01818","strokeWidth":1,"opacity":1,"shape":"circle"},
 "encoding":{"x":{"field":"x","type":"quantitative","axis":null},"y":{"field":"y","type":"quantitative","axis":null}}},
{"data":{"name":"head"},
 "mark":{"type":"point","filled":true,"size":70,"shape":"triangle","angle":308,"color":"#000000","opacity":1},
 "encoding":{"x":{"field":"x","type":"quantitative","axis":null},"y":{"field":"y","type":"quantitative","axis":null}}},
{"data":{"name":"note"},
 "mark":{"type":"text","font":"Open Sans","fontSize":14.5,"color":"#333333","align":"center","baseline":"middle"},
 "encoding":{"x":{"field":"x","type":"quantitative","axis":null},"y":{"field":"y","type":"quantitative","axis":null},"text":{"field":"t"}}}
]
}
